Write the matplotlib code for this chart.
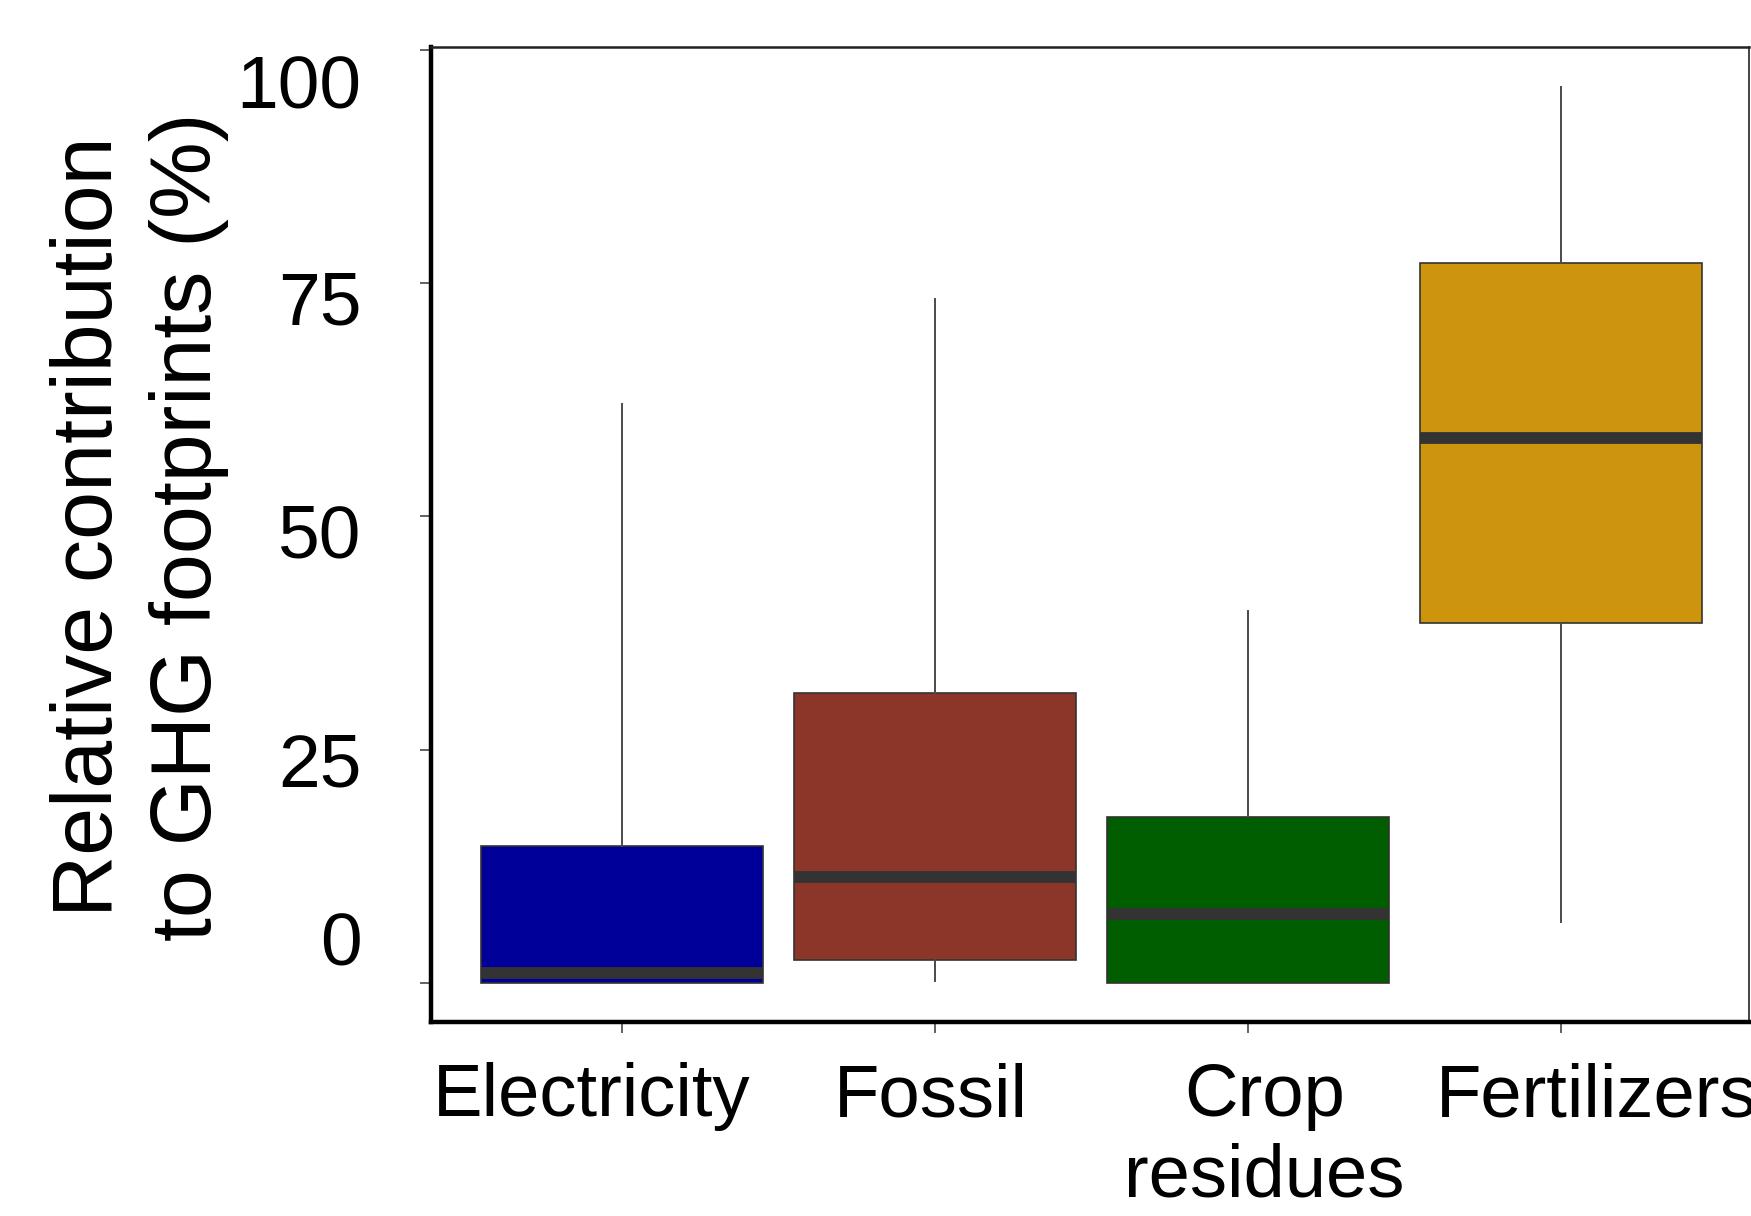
import matplotlib
matplotlib.use("Agg")
import matplotlib.pyplot as plt

plt.rcParams['font.family'] = ['Liberation Sans', 'DejaVu Sans']

categories = ["Electricity", "Fossil", "Crop\nresidues", "Fertilizers"]
whislo = [0.0, 0.2, 0.0, 6.5]
q1 = [0.0, 2.4, 0.0, 38.6]
med = [1.1, 11.3, 7.4, 58.4]
q3 = [14.7, 31.1, 17.8, 77.1]
whishi = [62.0, 73.3, 39.9, 96.0]
colors = ["#000099", "#8B3629", "#005E00", "#CC950D"]

yticks = [0, 25, 50, 75, 100]
ytick_labels = ["0", "25", "50", "75", "100"]
# label centres sit a bit off the tick marks in the original
ylabel_pos = [3.95, 23.1, 47.7, 72.6, 95.8]
# x labels are nudged sideways too (points)
xlabel_dx = [-22, -3, 12, 26]

fig = plt.figure(figsize=(17.51, 12.16), dpi=100)
ax = fig.add_axes([0.2462, 0.1595, 0.7525, 0.8019])

stats = []
for i in range(len(categories)):
    stats.append(dict(whislo=whislo[i], q1=q1[i], med=med[i], q3=q3[i],
                      whishi=whishi[i], fliers=[], label=categories[i]))

pos = list(range(len(categories)))
bp = ax.bxp(stats, positions=pos, widths=0.9,
            patch_artist=True, showcaps=False, showfliers=False,
            boxprops=dict(edgecolor="#333333", linewidth=1.2),
            medianprops=dict(color="#333333", linewidth=8.5, solid_capstyle="butt"),
            whiskerprops=dict(color="#4a4a4a", linewidth=1.4))
for patch, c in zip(bp["boxes"], colors):
    patch.set_facecolor(c)

ax.set_xlim(-0.61, 3.6)
ax.set_ylim(-4.2, 100.3)

ax.set_yticks(yticks)
ax.set_yticklabels([])
for lab, p in zip(ytick_labels, ylabel_pos):
    ax.text(-0.053, p, lab, transform=ax.get_yaxis_transform(),
            ha="right", va="center", fontsize=54)

ax.set_xticks(pos)
ax.set_xticklabels([])
for lab, p, dx in zip(categories, pos, xlabel_dx):
    ax.annotate(lab, xy=(p, 0), xycoords=ax.get_xaxis_transform(),
                xytext=(dx, -29), textcoords="offset points",
                ha="center", va="top", multialignment="center",
                fontsize=53.5, linespacing=1.2)

ax.tick_params(axis="both", length=8, width=1.3, color="#555555")

ax.spines["left"].set_linewidth(3.2)
ax.spines["bottom"].set_linewidth(3.2)
ax.spines["top"].set_linewidth(1.8)
ax.spines["right"].set_linewidth(1.2)
ax.spines["top"].set_color("#222222")
ax.spines["right"].set_color("#222222")

fig.text(0.0795, 0.567, "Relative contribution\nto GHG footprints (%)",
         rotation=90, ha="center", va="center", multialignment="center",
         fontsize=62, linespacing=1.3)

fig.savefig("out.png", dpi=100)
